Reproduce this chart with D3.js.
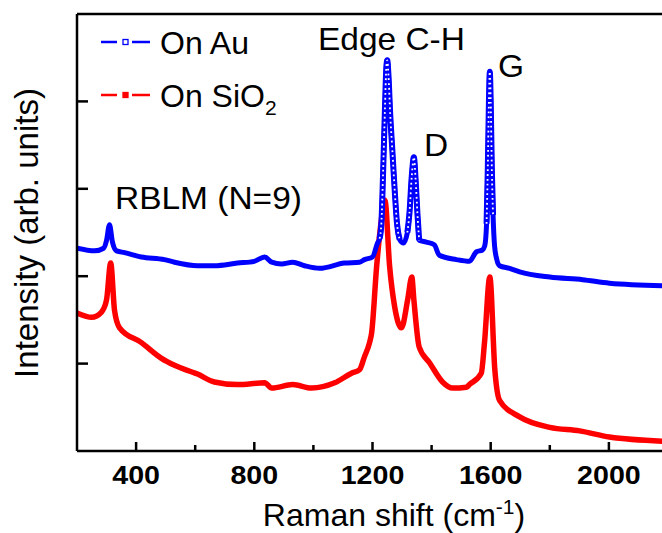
<!DOCTYPE html>
<html>
<head>
<meta charset="utf-8">
<script src="https://cdn.jsdelivr.net/npm/d3@7"></script>
<style>
  body { margin: 0; background: #fff; }
  svg text { font-family: "Liberation Sans", Arial, sans-serif; }
</style>
</head>
<body>
<div id="chart"></div>
<script>
// Raman spectra (arb. units)
var shiftAu = [200, 260, 290, 300, 310, 320, 334, 361, 418, 496, 530, 608, 665, 743, 800, 835, 859, 892, 930, 970, 1021, 1105, 1156, 1173, 1200, 1217, 1224, 1230, 1236, 1242, 1247, 1250, 1254, 1260, 1267, 1275, 1283, 1292, 1305, 1318, 1325, 1333, 1340, 1346, 1352, 1358, 1382, 1409, 1426, 1484, 1528, 1552, 1572, 1580, 1586, 1590, 1594, 1597, 1600, 1604, 1608, 1613, 1620, 1630, 1664, 1698, 1800, 1911, 2002, 2200];
var intensityAu = [2.32, 2.29, 2.32, 2.41, 2.59, 2.39, 2.29, 2.27, 2.22, 2.19, 2.16, 2.12, 2.12, 2.15, 2.17, 2.22, 2.16, 2.14, 2.16, 2.12, 2.09, 2.15, 2.16, 2.19, 2.22, 2.38, 2.43, 2.6, 3.2, 3.9, 4.4, 4.47, 4.3, 3.85, 3.45, 2.99, 2.6, 2.42, 2.38, 2.5, 2.72, 3.15, 3.36, 3.1, 2.72, 2.41, 2.39, 2.36, 2.24, 2.19, 2.17, 2.28, 2.3, 2.35, 2.6, 3.2, 4.0, 4.34, 4.0, 3.2, 2.7, 2.35, 2.2, 2.12, 2.09, 2.05, 1.99, 1.96, 1.92, 1.89];

var shiftSiO2 = [200, 250, 283, 300, 314, 327, 344, 418, 486, 530, 608, 665, 743, 835, 859, 930, 994, 1072, 1129, 1156, 1173, 1190, 1197, 1214, 1228, 1242, 1258, 1275, 1298, 1319, 1333, 1340, 1358, 1393, 1437, 1471, 1518, 1528, 1568, 1579, 1597, 1614, 1630, 1698, 1800, 1901, 2002, 2200];
var intensitySiO2 = [1.58, 1.53, 1.59, 1.73, 2.15, 1.61, 1.41, 1.24, 1.06, 0.98, 0.88, 0.79, 0.76, 0.78, 0.72, 0.76, 0.72, 0.78, 0.89, 0.93, 1.08, 1.24, 1.35, 2.11, 2.59, 2.87, 2.11, 1.65, 1.41, 1.73, 1.99, 1.73, 1.19, 1.01, 0.79, 0.72, 0.73, 0.76, 0.89, 1.24, 1.99, 0.93, 0.58, 0.39, 0.27, 0.23, 0.16, 0.11];

var xTicks = [400, 800, 1200, 1600, 2000];
var xMinorTicks = [600, 1000, 1400, 1800];
var yTicks = [1, 2, 3, 4];

// regions where the hollow square markers of the Au curve show up
var markerRanges = [[1222, 1300], [1312, 1360], [1582, 1612]];

var width = 662, height = 533;
var margins = {left: 77, top: 14, bottom: 451, right: 668};

var svg = d3.select("#chart").append("svg")
    .attr("width", width)
    .attr("height", height);

var x = d3.scaleLinear().domain([200, 2200]).range([margins.left, margins.right]);
var y = d3.scaleLinear().domain([0, 5]).range([margins.bottom, margins.top]);

svg.append("defs").append("clipPath").attr("id", "plot-clip")
    .append("rect")
    .attr("x", margins.left).attr("y", margins.top)
    .attr("width", margins.right - margins.left)
    .attr("height", margins.bottom - margins.top);

var zip = function(xs, ys) {
    return xs.map(function(v, i) { return [v, ys[i]]; });
};
var au = zip(shiftAu, intensityAu);
var sio2 = zip(shiftSiO2, intensitySiO2);

var line = d3.line()
    .x(function(d) { return x(d[0]); })
    .y(function(d) { return y(d[1]); })
    .curve(d3.curveMonotoneX);

var series = svg.append("g").attr("clip-path", "url(#plot-clip)");

series.append("path")
    .datum(sio2)
    .attr("fill", "none")
    .attr("stroke", "#ff0000")
    .attr("stroke-width", 5.5)
    .attr("stroke-linejoin", "round")
    .attr("d", line);

series.append("path")
    .datum(au)
    .attr("fill", "none")
    .attr("stroke", "#0000ff")
    .attr("stroke-width", 5)
    .attr("stroke-linejoin", "round")
    .attr("d", line);

// fake the open squares in the steep parts with a white dotted core
markerRanges.forEach(function(r) {
    var seg = au.filter(function(d) { return d[0] >= r[0] && d[0] <= r[1]; });
    series.append("path")
        .datum(seg)
        .attr("fill", "none")
        .attr("stroke", "#0000ff")
        .attr("stroke-width", 6)
        .attr("d", line);
    series.append("path")
        .datum(seg)
        .attr("fill", "none")
        .attr("stroke", "#ffffff")
        .attr("stroke-width", 1.8)
        .attr("stroke-dasharray", "1.8,3")
        .attr("d", line);
});

// axes frame
var axisColor = "#000";
svg.append("line")
    .attr("x1", margins.left).attr("x2", width)
    .attr("y1", margins.bottom).attr("y2", margins.bottom)
    .attr("stroke", axisColor).attr("stroke-width", 2.5);
svg.append("line")
    .attr("x1", margins.left).attr("x2", width)
    .attr("y1", margins.top).attr("y2", margins.top)
    .attr("stroke", axisColor).attr("stroke-width", 2.5);
svg.append("line")
    .attr("x1", margins.left).attr("x2", margins.left)
    .attr("y1", margins.top).attr("y2", margins.bottom)
    .attr("stroke", axisColor).attr("stroke-width", 2.5);

// x ticks (inward)
svg.append("g").selectAll("line.major")
    .data(xTicks).enter()
    .append("line")
    .attr("x1", function(d) { return x(d); }).attr("x2", function(d) { return x(d); })
    .attr("y1", margins.bottom).attr("y2", margins.bottom - 9)
    .attr("stroke", axisColor).attr("stroke-width", 2.5);
svg.append("g").selectAll("line.minor")
    .data(xMinorTicks).enter()
    .append("line")
    .attr("x1", function(d) { return x(d); }).attr("x2", function(d) { return x(d); })
    .attr("y1", margins.bottom).attr("y2", margins.bottom - 6)
    .attr("stroke", axisColor).attr("stroke-width", 2.5);
svg.append("g").selectAll("text")
    .data(xTicks).enter()
    .append("text")
    .attr("transform", function(d) { return "translate(" + x(d) + ",484) scale(1.1,1)"; })
    .attr("text-anchor", "middle")
    .style("font-size", "26px")
    .style("font-weight", "bold")
    .text(function(d) { return d; });

// y ticks (inward, no labels)
svg.append("g").selectAll("line")
    .data(yTicks).enter()
    .append("line")
    .attr("x1", margins.left).attr("x2", margins.left + 11)
    .attr("y1", function(d) { return y(d); }).attr("y2", function(d) { return y(d); })
    .attr("stroke", axisColor).attr("stroke-width", 2.5);

// axis titles
var xt = svg.append("text")
    .attr("x", 394).attr("y", 526)
    .attr("text-anchor", "middle")
    .style("font-size", "32px");
xt.append("tspan").text("Raman shift (cm");
xt.append("tspan").attr("dy", -12).style("font-size", "21px").text("-1");
xt.append("tspan").attr("dy", 12).text(")");

svg.append("text")
    .attr("transform", "translate(38,233) rotate(-90)")
    .attr("text-anchor", "middle")
    .style("font-size", "33px")
    .text("Intensity (arb. units)");

// peak labels
var labels = [
    {t: "Edge C-H", x: 318, y: 50},
    {t: "D", x: 424, y: 156},
    {t: "G", x: 498, y: 77},
    {t: "RBLM (N=9)", x: 115, y: 209}
];
svg.append("g").selectAll("text")
    .data(labels).enter()
    .append("text")
    .attr("transform", function(d) { return "translate(" + d.x + "," + d.y + ") scale(1.08,1)"; })
    .style("font-size", "31px")
    .text(function(d) { return d.t; });

// legend
var legend = svg.append("g");
var legendRows = [
    {color: "#0000ff", y: 42, label: "On Au", hollow: true},
    {color: "#ff0000", y: 95, label: "On SiO", sub: "2", hollow: false}
];
legendRows.forEach(function(r) {
    legend.append("line")
        .attr("x1", 101).attr("x2", 117).attr("y1", r.y).attr("y2", r.y)
        .attr("stroke", r.color).attr("stroke-width", 2.5);
    legend.append("line")
        .attr("x1", 132).attr("x2", 150).attr("y1", r.y).attr("y2", r.y)
        .attr("stroke", r.color).attr("stroke-width", 2.5);
    legend.append("rect")
        .attr("x", 123).attr("y", r.y - 2.5).attr("width", 5).attr("height", 5)
        .attr("fill", r.hollow ? "#fff" : r.color)
        .attr("stroke", r.color).attr("stroke-width", 1.3);
    var t = legend.append("text")
        .attr("x", 160).attr("y", r.y + 12)
        .style("font-size", "32px")
        .text(r.label);
    if (r.sub) {
        t.append("tspan").attr("dy", 8).style("font-size", "21px").text(r.sub);
    }
});
</script>
</body>
</html>
